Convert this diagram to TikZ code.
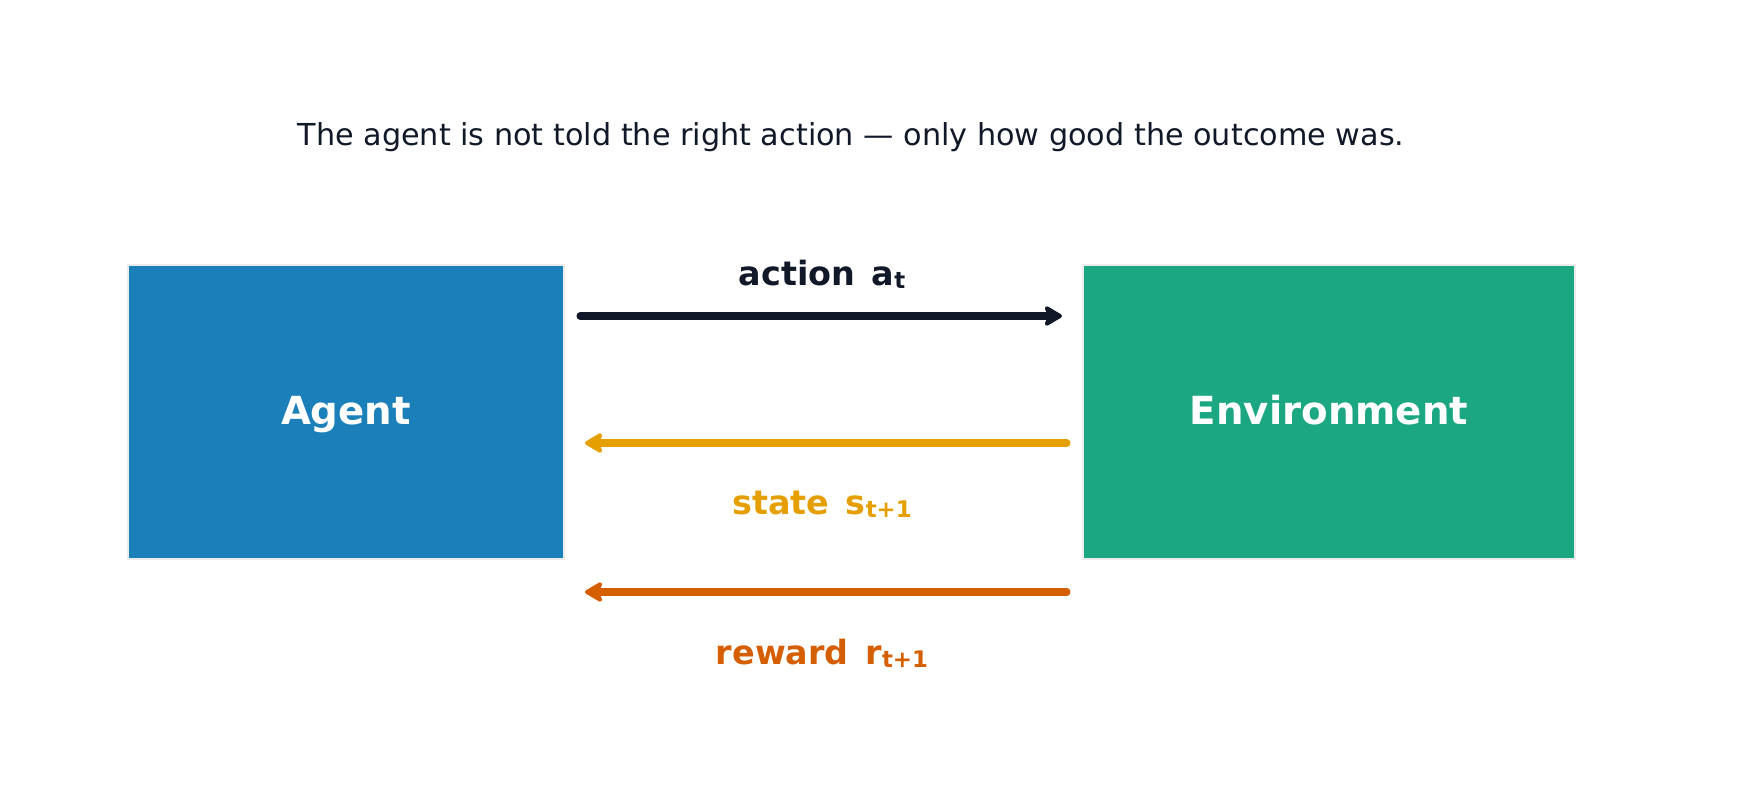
\documentclass[tikz,border=0pt]{standalone}
\usepackage{fontspec}
\setmainfont{DejaVu Sans}
\usepackage{xcolor}
\usetikzlibrary{arrows.meta}

\definecolor{agentblue}{HTML}{1B80BA}
\definecolor{envgreen}{HTML}{1BA782}
\definecolor{inkdark}{HTML}{111827}
\definecolor{stateorange}{HTML}{E69F00}
\definecolor{rewardred}{HTML}{D55E00}

\newcommand{\subtxt}[1]{\raisebox{-0.15ex}{\fontsize{6.5pt}{7pt}\selectfont #1}}

\tikzset{
  box/.style={draw=gray!15,line width=0.6pt,text=white,font=\bfseries\fontsize{11pt}{13pt}\selectfont,
    text height=1.5ex,text depth=0.25ex},
  flow/.style={line width=2pt,line cap=round,-{Stealth[length=6pt,width=7pt,inset=1.5pt,round]}},
  lbl/.style={font=\bfseries\fontsize{9.5pt}{11pt}\selectfont}
}

\begin{document}
\begin{tikzpicture}[x=0.01cm,y=0.01cm]
        \useasboundingbox (0,0) rectangle (1742,802);

        % Title
        \node[text=inkdark,font=\fontsize{8.6pt}{10pt}\selectfont] (title) at (851,665) {The agent is not told the right action — only how good the outcome was.};

        % Boxes
        \node[box,fill=agentblue,minimum width=4.36cm,minimum height=2.94cm] (agent) at (346,390) {Agent};
        \node[box,fill=envgreen,minimum width=4.92cm,minimum height=2.94cm] (env) at (1329,390) {Environment};

        % Arrow ends
        \coordinate (actA) at (580,486);
        \coordinate (actE) at (1062,486);
        \coordinate (stE) at (1067,359);
        \coordinate (stA) at (585,359);
        \coordinate (rwE) at (1067,210);
        \coordinate (rwA) at (585,210);

        % Action
        \draw[flow,inkdark] (actA) -- (actE);
        \node[lbl,text=inkdark] (actlbl) at (822,528) {action\enspace a\subtxt{t}};

        % State
        \draw[flow,stateorange] (stE) -- (stA);
        \node[lbl,text=stateorange] (stlbl) at (822,298) {state\enspace s\subtxt{t+1}};

        % Reward
        \draw[flow,rewardred] (rwE) -- (rwA);
        \node[lbl,text=rewardred] (rwlbl) at (822,149) {reward\enspace r\subtxt{t+1}};
    \end{tikzpicture}
\end{document}
